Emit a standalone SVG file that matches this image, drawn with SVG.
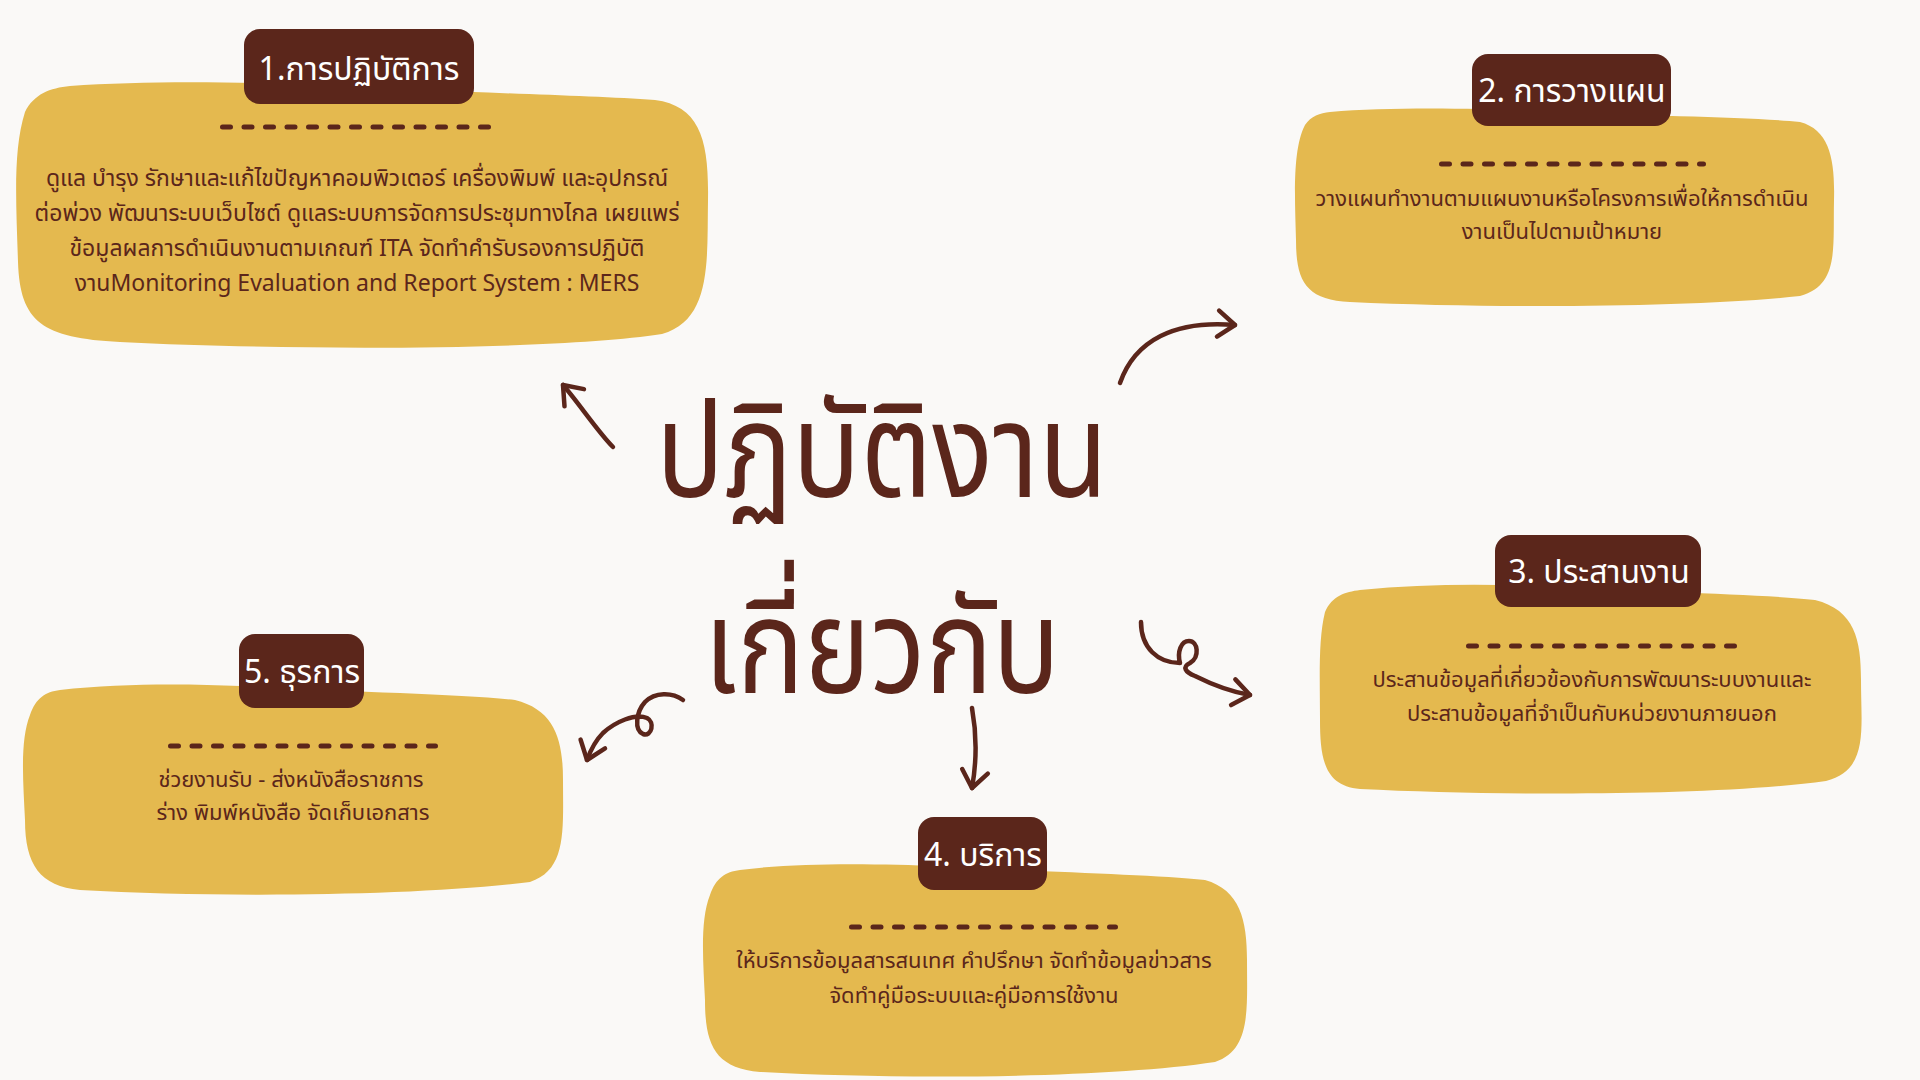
<svg xmlns="http://www.w3.org/2000/svg" width="1920" height="1080" viewBox="0 0 1920 1080">
<defs>
<style>
.bg{fill:#FAF9F7}
.blob{fill:#E4B94F}
.tag{fill:#5B261B}
.tagtxt{fill:#FFFFFF;font-family:"Noto Sans Thai","Noto Sans",sans-serif;font-size:32px;text-anchor:middle}
.dash{fill:none;stroke:#5B261B;stroke-width:5;stroke-linecap:round;stroke-dasharray:8 13.5}
.body{fill:#5B261B;font-family:"Noto Sans Thai","Noto Sans",sans-serif;font-size:22px;text-anchor:middle}
.big{font-size:23px}
.title{fill:#5B261B;font-family:"Noto Sans Thai","Noto Sans",sans-serif;font-size:132px;text-anchor:middle}
.conn{fill:none;stroke:#5B261B;stroke-width:4.5;stroke-linecap:round;stroke-linejoin:round}
</style>
<marker id="head" markerUnits="userSpaceOnUse" viewBox="-24 -16 28 32" refX="0" refY="0" markerWidth="28" markerHeight="32" orient="auto">
<path d="M -17,-13 L 0,0 L -17,13" fill="none" stroke="#5B261B" stroke-width="4.5" stroke-linecap="round" stroke-linejoin="round"/>
</marker>
</defs>
<rect class="bg" x="0" y="0" width="1920" height="1080"/>

<g id="title">
<text class="title" x="882" y="497" textLength="452" lengthAdjust="spacingAndGlyphs">ปฏิบัติงาน</text>
<text class="title" x="882" y="693" textLength="356" lengthAdjust="spacingAndGlyphs">เกี่ยวกับ</text>
</g>

<g id="connectors">
<path class="conn" d="M 613,447 C 598,432 578,402 563,385" marker-end="url(#head)"/>
<path class="conn" stroke-width="5.5" d="M 1120,383 C 1135,340 1175,320 1235,325" marker-end="url(#head)"/>
<path class="conn" d="M 1141,622 C 1141,648 1158,663 1180,663 C 1177,652 1181,641 1189,641 C 1198,641 1200,657 1190,663 C 1182,667 1185,672 1195,676 C 1215,686 1232,692 1250,695" marker-end="url(#head)"/>
<path class="conn" d="M 972,708 C 976,730 977,760 972,788" marker-end="url(#head)"/>
<path class="conn" d="M 683,700 C 672,692 655,692 645,702 C 636,712 634,730 643,734 C 652,737 655,722 647,718 C 635,713 615,722 603,733 C 597,739 591,749 587,760" marker-end="url(#head)"/>
</g>

<g id="node1">
<path class="blob" d="M 70,86 C 150,80 260,82 330,86 C 450,92 580,95 655,100 C 700,106 709,140 708,200 C 707,260 712,320 662,334 C 560,350 300,351 120,342 C 42,338 20,322 18,262 C 16,200 13,150 25,112 C 34,94 50,88 70,86 Z"/>
<rect class="tag" x="244" y="29" width="230" height="75" rx="16"/>
<text class="tagtxt" x="359" y="80">1.การปฏิบัติการ</text>
<path class="dash" d="M 222.5,127 H 492.5"/>
<text class="body big" x="357" y="186">ดูแล บำรุง รักษาและแก้ไขปัญหาคอมพิวเตอร์ เครื่องพิมพ์ และอุปกรณ์</text>
<text class="body big" x="357" y="221">ต่อพ่วง พัฒนาระบบเว็บไซต์ ดูแลระบบการจัดการประชุมทางไกล เผยแพร่</text>
<text class="body big" x="357" y="256">ข้อมูลผลการดำเนินงานตามเกณฑ์ ITA จัดทำคำรับรองการปฏิบัติ</text>
<text class="body big" x="357" y="291">งานMonitoring Evaluation and Report System : MERS</text>
</g>

<g id="node2">
<path class="blob" d="M 1330,112 C 1400,106 1500,109 1560,112 C 1650,116 1750,117 1800,122 C 1830,130 1835,160 1834,200 C 1833,250 1839,285 1800,296 C 1700,307 1500,309 1350,302 C 1305,300 1296,280 1296,240 C 1295,200 1292,150 1305,125 C 1311,116 1320,113 1330,112 Z"/>
<rect class="tag" x="1472" y="54" width="199" height="72" rx="16"/>
<text class="tagtxt" x="1572" y="102">2. การวางแผน</text>
<path class="dash" d="M 1441.5,164 H 1703.5"/>
<text class="body" x="1562" y="206">วางแผนทำงานตามแผนงานหรือโครงการเพื่อให้การดำเนิน</text>
<text class="body" x="1562" y="239">งานเป็นไปตามเป้าหมาย</text>
</g>

<g id="node3">
<path class="blob" d="M 1360,590 C 1420,584 1480,584 1540,586 C 1650,592 1760,594 1815,600 C 1855,610 1861,640 1861,680 C 1861,730 1869,770 1826,781 C 1720,796 1500,796 1360,789 C 1325,786 1320,760 1320,720 C 1320,680 1318,640 1325,612 C 1332,596 1345,592 1360,590 Z"/>
<rect class="tag" x="1495" y="535" width="206" height="72" rx="16"/>
<text class="tagtxt" x="1599" y="583">3. ประสานงาน</text>
<path class="dash" d="M 1468.5,646 H 1734.5"/>
<text class="body" x="1592" y="687">ประสานข้อมูลที่เกี่ยวข้องกับการพัฒนาระบบงานและ</text>
<text class="body" x="1592" y="721">ประสานข้อมูลที่จำเป็นกับหน่วยงานภายนอก</text>
</g>

<g id="node4">
<path class="blob" d="M 740,870 C 800,862 880,864 940,866 C 1040,872 1150,874 1205,880 C 1240,890 1247,920 1247,960 C 1247,1010 1251,1050 1215,1062 C 1110,1078 900,1080 760,1072 C 715,1068 705,1045 705,1000 C 703,960 700,920 710,895 C 716,878 725,872 740,870 Z"/>
<rect class="tag" x="918" y="817" width="129" height="73" rx="16"/>
<text class="tagtxt" x="983" y="866">4. บริการ</text>
<path class="dash" d="M 851.5,927 H 1115.5"/>
<text class="body" x="974" y="968">ให้บริการข้อมูลสารสนเทศ คำปรึกษา จัดทำข้อมูลข่าวสาร</text>
<text class="body" x="974" y="1003">จัดทำคู่มือระบบและคู่มือการใช้งาน</text>
</g>

<g id="node5">
<path class="blob" d="M 60,690 C 120,683 190,684 240,686 C 350,692 460,694 515,700 C 555,710 563,740 563,780 C 563,830 567,870 530,882 C 420,896 220,898 80,890 C 40,886 25,865 25,820 C 23,780 20,740 30,715 C 36,698 45,692 60,690 Z"/>
<rect class="tag" x="239" y="634" width="125" height="74" rx="16"/>
<text class="tagtxt" x="302" y="683">5. ธุรการ</text>
<path class="dash" d="M 170.5,746 H 435.5"/>
<text class="body" x="291" y="787">ช่วยงานรับ - ส่งหนังสือราชการ</text>
<text class="body" x="293" y="820">ร่าง พิมพ์หนังสือ จัดเก็บเอกสาร</text>
</g>
</svg>
